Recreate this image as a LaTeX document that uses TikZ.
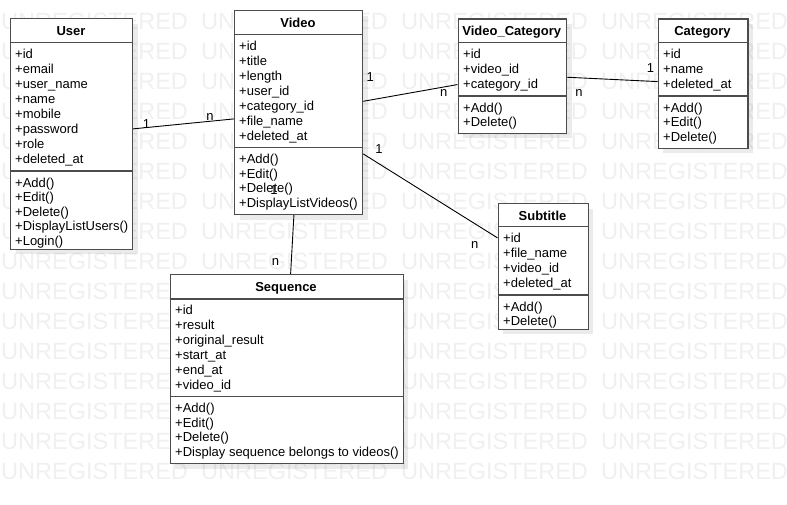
\documentclass[tikz,border=0pt]{standalone}
\usepackage{fontspec}
\setmainfont{Liberation Sans}
\usetikzlibrary{shadows}
\newcommand{\attrfont}{\fontsize{13}{15}\selectfont}
\newcommand{\opfont}{\fontsize{13}{14.5}\selectfont}
\tikzset{
  cls/.style={draw=black!70, line width=1.2pt, fill=white, inner sep=0pt, anchor=north west,
    drop shadow={shadow xshift=5pt, shadow yshift=-5pt, fill=black, opacity=0.08}},
  divider/.style={draw=black!70, line width=1.2pt},
  title/.style={anchor=base, inner sep=0pt, font=\attrfont\bfseries},
  attrs/.style={anchor=north west, inner sep=0pt, align=left, font=\attrfont, yshift=-2pt, execute at begin node=\strut},
  ops/.style={attrs, font=\opfont},
  assoc/.style={draw=black, line width=0.9pt},
  mult/.style={inner sep=0pt, font=\attrfont},
  watermark/.style={anchor=west, inner sep=0pt, text=black!6, font=\fontsize{23.5}{23.5}\selectfont},
}
\begin{document}
\begin{tikzpicture}[x=1pt, y=-1pt]
\path[use as bounding box, fill=white] (0,0) rectangle (787,504);

\foreach \row in {0,...,15}
  \foreach \col in {0,...,3}
    \node[watermark] (wm-\row-\col) at (1+200*\col, 21.5+30*\row) {UNREGISTERED};

\node[cls, minimum width=122, minimum height=230.5] (user) at (10,18) {};
\draw[divider] (10,42.7) -- (132,42.7);
\draw[divider] (10,171) -- (132,171);
\node[title] (user title) at (71,35) {User};
\node[attrs] (user attrs) at (15,46.9) {+id\\+email\\+user\_name\\+name\\+mobile\\+password\\+role\\+deleted\_at};
\node[ops] (user ops) at (15,175.5) {+Add()\\+Edit()\\+Delete()\\+DisplayListUsers()\\+Login()};

\node[cls, minimum width=128, minimum height=204] (video) at (234,10) {};
\draw[divider] (234,34.5) -- (362,34.5);
\draw[divider] (234,147.7) -- (362,147.7);
\node[title] (video title) at (298,27.2) {Video};
\node[attrs] (video attrs) at (239,38.7) {+id\\+title\\+length\\+user\_id\\+category\_id\\+file\_name\\+deleted\_at};
\node[ops] (video ops) at (239,152.2) {+Add()\\+Edit()\\+Delete()\\+DisplayListVideos()};

\node[cls, minimum width=108.5, minimum height=114.3] (vidcat) at (457.5,18.3) {};
\draw[divider] (457.5,42.7) -- (566,42.7);
\draw[divider] (457.5,96) -- (566,96);
\node[title] (vidcat title) at (511.75,35.3) {Video\_Category};
\node[attrs] (vidcat attrs) at (463,46.9) {+id\\+video\_id\\+category\_id};
\node[ops] (vidcat ops) at (463,100.5) {+Add()\\+Delete()};

\node[cls, minimum width=89.6, minimum height=129.4] (category) at (657.7,18.3) {};
\draw[divider] (657.7,42.7) -- (747.3,42.7);
\draw[divider] (657.7,96) -- (747.3,96);
\node[title] (category title) at (702.5,35.3) {Category};
\node[attrs] (category attrs) at (663,46.9) {+id\\+name\\+deleted\_at};
\node[ops] (category ops) at (663,100.5) {+Add()\\+Edit()\\+Delete()};

\node[cls, minimum width=90, minimum height=125.5] (subtitle) at (497.5,203) {};
\draw[divider] (497.5,226.7) -- (587.5,226.7);
\draw[divider] (497.5,295) -- (587.5,295);
\node[title] (subtitle title) at (542.5,220) {Subtitle};
\node[attrs] (subtitle attrs) at (503,230.9) {+id\\+file\_name\\+video\_id\\+deleted\_at};
\node[ops] (subtitle ops) at (503,299.5) {+Add()\\+Delete()};

\node[cls, minimum width=233, minimum height=189] (sequence) at (169.5,274) {};
\draw[divider] (169.5,299) -- (402.5,299);
\draw[divider] (169.5,396.7) -- (402.5,396.7);
\node[title] (sequence title) at (286,291) {Sequence};
\node[attrs] (sequence attrs) at (175,303.2) {+id\\+result\\+original\_result\\+start\_at\\+end\_at\\+video\_id};
\node[ops] (sequence ops) at (175,401.2) {+Add()\\+Edit()\\+Delete()\\+Display sequence belongs to videos()};

\draw[assoc] ([yshift=5pt]user.east) -- ([yshift=-6.3pt]video.west);
\draw[assoc] ([yshift=11.3pt]video.east) -- ([yshift=-8.5pt]vidcat.west);
\draw[assoc] ([yshift=-1.2pt]vidcat.east) -- ([yshift=2pt]category.west);
\draw[assoc] ([yshift=-41.3pt]video.east) -- ([yshift=28.5pt]subtitle.west);
\draw[assoc] ([xshift=-4.7pt]video.south) -- ([xshift=4pt]sequence.north);

\node[mult] (user one) at (146.5,124) {1};
\node[mult] (video n) at (210,117) {n};
\node[mult] (video one a) at (370.3,77.5) {1};
\node[mult] (vidcat n a) at (443.7,93.3) {n};
\node[mult] (vidcat n b) at (579,93) {n};
\node[mult] (category one) at (650.5,68) {1};
\node[mult] (video one b) at (379,149) {1};
\node[mult] (subtitle n) at (474.7,245) {n};
\node[mult] (video one c) at (274,190) {1};
\node[mult] (sequence n) at (275.5,261.7) {n};
\end{tikzpicture}
\end{document}
